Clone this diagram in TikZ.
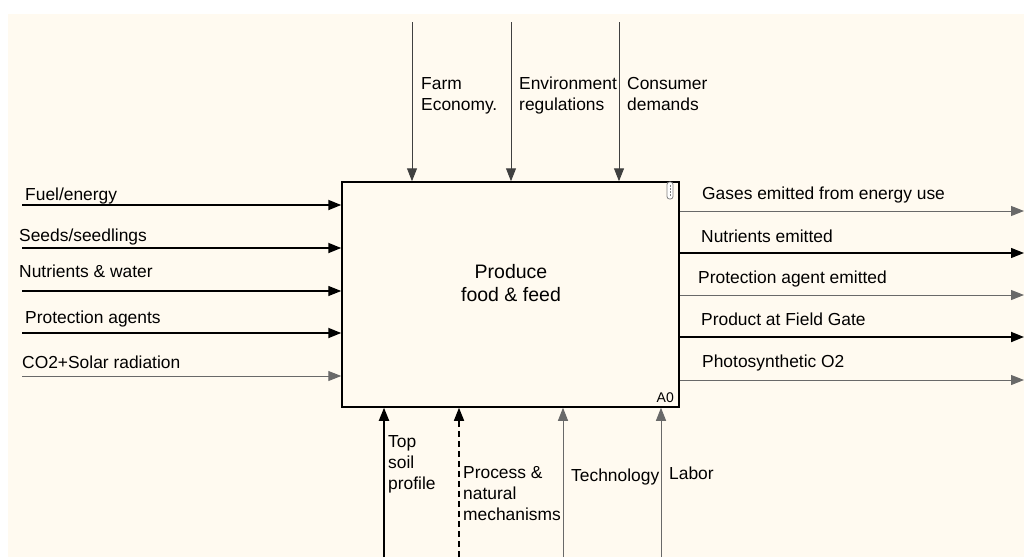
\documentclass[tikz,border=0pt]{standalone}
\usepackage{fontspec}
\setmainfont{Liberation Sans}
\usetikzlibrary{arrows.meta}
\definecolor{paper}{RGB}{255,250,240}
\definecolor{wire}{RGB}{105,105,105}
\begin{document}
\begin{tikzpicture}[x=1pt,y=-1pt,
  lbl/.style={inner sep=0pt, font=\fontsize{17.4}{21}\selectfont, align=left},
  tip/.style={-{Triangle[length=13pt 0,width=10pt 0]}},
  thin flow/.style={tip, line width=1pt, draw=wire},
  dark flow/.style={tip, line width=1.1pt, draw=black},
  heavy flow/.style={tip, line width=1.8pt, draw=black},
  dash flow/.style={tip, line width=1.5pt, draw=black, dash pattern=on 6pt off 4pt},
]
% page and drawing area
\useasboundingbox (0,0) rectangle (1030,557);
\fill[white] (0,0) rectangle (1030,557);
\fill[paper] (8,14) rectangle (1024,557);

% activity box
\node[draw=black, line width=1.5pt, fill=paper, inner sep=0pt,
      minimum width=337pt, minimum height=225pt] (fn) at (510.5,294.5) {};
\node[inner sep=0pt, font=\fontsize{19.5}{23}\selectfont, align=center]
  (fnlabel) at (511,283) {Produce\\food \& feed};
\node[inner sep=0pt, font=\fontsize{14}{16}\selectfont, anchor=base east]
  (fnid) at (674,402) {A0};
% attachment clip in the corner
\draw[gray, line width=0.8pt, fill=white, rounded corners=2.5pt]
  (667,182) rectangle (673,199);
\draw[gray, line width=0.6pt, dash pattern=on 1.5pt off 1.5pt]
  (670,185) -- (670,196);

% inputs (left)
\coordinate (i1) at (22,205);
\coordinate (i2) at (22,248);
\coordinate (i3) at (22,291);
\coordinate (i4) at (22,333);
\coordinate (i5) at (22,376);
\draw[heavy flow] (i1) -- (fn.west |- i1);
\draw[heavy flow] (i2) -- (fn.west |- i2);
\draw[dark flow, line width=1.4pt] (i3) -- (fn.west |- i3);
\draw[heavy flow] (i4) -- (fn.west |- i4);
\draw[thin flow] (i5) -- (fn.west |- i5);
\node[lbl, anchor=base west] (li1) at (25,200) {Fuel/energy};
\node[lbl, anchor=base west] (li2) at (19,241) {Seeds/seedlings};
\node[lbl, anchor=base west] (li3) at (19,277) {Nutrients \& water};
\node[lbl, anchor=base west] (li4) at (25,323) {Protection agents};
\node[lbl, anchor=base west] (li5) at (22,368) {CO2+Solar radiation};

% outputs (right)
\coordinate (o1) at (1024,211);
\coordinate (o2) at (1024,253);
\coordinate (o3) at (1024,295);
\coordinate (o4) at (1024,337);
\coordinate (o5) at (1024,380);
\draw[thin flow] (fn.east |- o1) -- (o1);
\draw[dark flow] (fn.east |- o2) -- (o2);
\draw[thin flow] (fn.east |- o3) -- (o3);
\draw[heavy flow] (fn.east |- o4) -- (o4);
\draw[thin flow] (fn.east |- o5) -- (o5);
\node[lbl, anchor=base west] (lo1) at (702,199) {Gases emitted from energy use};
\node[lbl, anchor=base west] (lo2) at (701,242) {Nutrients emitted};
\node[lbl, anchor=base west] (lo3) at (698,283) {Protection agent emitted};
\node[lbl, anchor=base west] (lo4) at (701,325) {Product at Field Gate};
\node[lbl, anchor=base west] (lo5) at (702,367) {Photosynthetic O2};

% controls (top)
\coordinate (c1) at (412,22);
\coordinate (c2) at (511,22);
\coordinate (c3) at (619,22);
\draw[thin flow, draw=black!75] (c1) -- (c1 |- fn.north);
\draw[thin flow, draw=black!75] (c2) -- (c2 |- fn.north);
\draw[thin flow, draw=black!75] (c3) -- (c3 |- fn.north);
\node[lbl, anchor=north west] (lc1) at (421,77) {Farm\\Economy.};
\node[lbl, anchor=north west] (lc2) at (519,77) {Environment\\regulations};
\node[lbl, anchor=north west] (lc3) at (627,77) {Consumer\\demands};

% mechanisms (bottom)
\coordinate (m1) at (384,557);
\coordinate (m2) at (459,557);
\coordinate (m3) at (563,557);
\coordinate (m4) at (661,557);
\draw[heavy flow] (m1) -- (m1 |- fn.south);
\draw[dash flow] (m2) -- (m2 |- fn.south);
\draw[thin flow] (m3) -- (m3 |- fn.south);
\draw[thin flow] (m4) -- (m4 |- fn.south);
\node[lbl, anchor=north west] (lm1) at (388,435) {Top\\soil\\profile};
\node[lbl, anchor=north west] (lm2) at (463,466) {Process \&\\natural\\mechanisms};
\node[lbl, anchor=base west] (lm3) at (571,481) {Technology};
\node[lbl, anchor=base west] (lm4) at (669,479) {Labor};
\end{tikzpicture}
\end{document}
